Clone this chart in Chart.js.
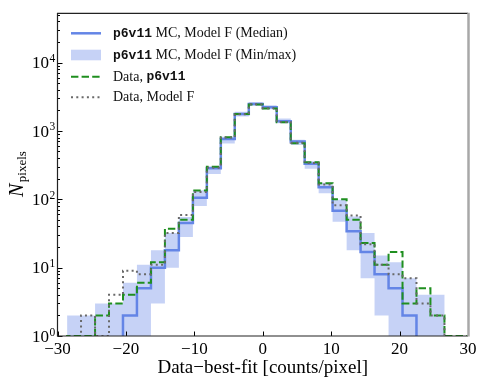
<!DOCTYPE html>
<html><head><meta charset="utf-8">
<script src="https://cdn.jsdelivr.net/npm/chart.js@4"></script>
<style>html,body{margin:0;padding:0;background:#fff;}canvas{display:block;}</style>
</head><body>
<canvas id="c" width="485" height="388"></canvas>
<script>
// Histogram bin edges (counts/pixel)
const binEdges = [-28.6,-26.56,-24.51,-22.47,-20.43,-18.39,-16.34,-14.3,-12.26,-10.21,-8.17,-6.13,-4.09,-2.04,0,
  2.04,4.09,6.13,8.17,10.21,12.26,14.3,16.34,18.39,20.43,22.47,24.51,26.56,28.6,30.64];
// p6v11 MC, Model F (median, min, max)
const medianMC = [0,0,0,0,2,5,10,18,45,105,285,760,1770,2480,2220,1380,700,330,150,68,34,17,8,5,2,0,0,0,0];
const minMC    = [0,0,0,0,0,0,3,10,28,80,235,655,1620,2330,2080,1290,620,280,122,47,18,7,2,0,0,0,0,0,0];
const maxMC    = [2,2,3,3,6,11,18,32,55,135,305,820,1900,2650,2380,1520,740,360,175,98,56,32,15,12,7,4,4,0,0];
// Data
const dataP6v11  = [1,1,2,3,4,6,12,37,50,134,300,808,1760,2430,2130,1340,660,348,172,100,50,23,11,17,3,5,2,1,1];
const dataModelF = [0,2,1,4,9,8,11,32,59,128,290,800,1750,2450,2150,1350,670,340,165,82,58,22,11,8,7,3,2,0,0];
// Axis ticks
const xTicks = [-30,-20,-10,0,10,20,30];
const yTickExponents = [0,1,2,3,4];
const legendLabels = [
  [['p6v11','mono'],[' MC, Model F (Median)','serif']],
  [['p6v11','mono'],[' MC, Model F (Min/max)','serif']],
  [['Data, ','serif'],['p6v11','mono']],
  [['Data, Model F','serif']]
];

const SERIF = '"Liberation Serif", "Times New Roman", serif';
const MONO = '"Liberation Mono", "DejaVu Sans Mono", monospace';
const BLUE = 'rgb(100,133,230)';
const BAND = 'rgba(65,105,225,0.3)';
const GREEN = '#1f8f1f';
const GREY = '#696969';
const FLOOR = 0.3; // empty bins fall below the log axis

function steps(vals){
  const f = v => v > 0 ? v : FLOOR;
  const pts = [{x:binEdges[0], y:FLOOR}];
  vals.forEach((v,i)=>pts.push({x:binEdges[i], y:f(v)}));
  pts.push({x:binEdges[vals.length], y:f(vals[vals.length-1])});
  return pts;
}

const frame = {
  id:'frame',
  afterDatasetsDraw(chart){
    const {ctx, chartArea:a, scales:{x,y}} = chart;
    ctx.save();
    // inward ticks
    ctx.strokeStyle='#000'; ctx.lineWidth=1;
    ctx.beginPath();
    xTicks.forEach(v=>{ const px=Math.round(x.getPixelForValue(v))+0.5; ctx.moveTo(px,a.bottom); ctx.lineTo(px,a.bottom-4.5); });
    yTickExponents.concat([5]).forEach(e=>{
      for(let m=1;m<=9;m++){ const v=m*Math.pow(10,e); if(v>y.max) break;
        const py=Math.round(y.getPixelForValue(v))+0.5; const len=m===1?5:2.5;
        ctx.moveTo(a.left,py); ctx.lineTo(a.left+len,py); }
    });
    ctx.stroke();
    // spines
    ctx.strokeStyle='#222'; ctx.lineWidth=1.2;
    ctx.beginPath(); ctx.moveTo(a.right,a.top); ctx.lineTo(a.left,a.top); ctx.lineTo(a.left,a.bottom); ctx.lineTo(a.right,a.bottom); ctx.stroke();
    ctx.strokeStyle='#a8a8a8'; ctx.lineWidth=2.5;
    ctx.beginPath(); ctx.moveTo(a.right+0.5,a.top-0.6); ctx.lineTo(a.right+0.5,a.bottom+0.6); ctx.stroke();
    // y tick labels 10^n
    ctx.fillStyle='#000'; ctx.textBaseline='alphabetic';
    yTickExponents.forEach(e=>{
      const py=y.getPixelForValue(Math.pow(10,e));
      ctx.font='17px '+SERIF; ctx.textAlign='right'; ctx.fillText('10', a.left-8.5, py+5.8);
      ctx.font='11.5px '+SERIF; ctx.textAlign='left'; ctx.fillText(String(e), a.left-8, py-0.5);
    });
    // y title N_pixels
    ctx.save(); ctx.translate(23,197); ctx.rotate(-Math.PI/2);
    ctx.textAlign='left'; ctx.font='italic 20px '+SERIF; ctx.fillText('N',0,0);
    const wN=ctx.measureText('N').width;
    ctx.font='13px '+SERIF; ctx.fillText('pixels', wN+1.5, 3);
    ctx.restore();
    // legend
    const rowsY=[33.3,55,76.7,97.3]; const x0=71, x1=101, tx=113;
    ctx.lineCap='butt';
    ctx.strokeStyle=BLUE; ctx.lineWidth=2.5; ctx.setLineDash([]);
    ctx.beginPath(); ctx.moveTo(x0,rowsY[0]); ctx.lineTo(x1,rowsY[0]); ctx.stroke();
    ctx.fillStyle=BAND; ctx.fillRect(x0,rowsY[1]-5.3,x1-x0,10.6);
    ctx.strokeStyle=GREEN; ctx.lineWidth=2; ctx.setLineDash([7.4,3.2]);
    ctx.beginPath(); ctx.moveTo(x0,rowsY[2]); ctx.lineTo(x1,rowsY[2]); ctx.stroke();
    ctx.strokeStyle=GREY; ctx.lineWidth=2; ctx.setLineDash([2,3.3]);
    ctx.beginPath(); ctx.moveTo(x0,rowsY[3]); ctx.lineTo(x1,rowsY[3]); ctx.stroke();
    ctx.setLineDash([]);
    ctx.fillStyle='#111'; ctx.textAlign='left'; ctx.textBaseline='middle';
    legendLabels.forEach((parts,i)=>{
      let cx=tx;
      parts.forEach(([t,kind])=>{
        ctx.font = kind==='mono' ? 'bold 13px '+MONO : '14px '+SERIF;
        ctx.fillText(t,cx,rowsY[i]+0.5); cx+=ctx.measureText(t).width;
      });
    });
    ctx.restore();
  }
};

new Chart(document.getElementById('c'), {
  type:'line',
  data:{ datasets:[
    {data:steps(dataModelF), stepped:'before', borderColor:GREY, borderWidth:2, borderDash:[2,3.3], pointRadius:0, fill:false},
    {data:steps(dataP6v11), stepped:'before', borderColor:GREEN, borderWidth:2, borderDash:[7.4,3.2], pointRadius:0, fill:false},
    {data:steps(medianMC), stepped:'before', borderColor:BLUE, borderWidth:2.5, pointRadius:0, fill:false},
    {data:steps(maxMC), stepped:'before', borderWidth:0, borderColor:'rgba(0,0,0,0)', backgroundColor:BAND, pointRadius:0, fill:'+1'},
    {data:steps(minMC), stepped:'before', borderWidth:0, borderColor:'rgba(0,0,0,0)', pointRadius:0, fill:false}
  ]},
  options:{
    responsive:false, animation:false, devicePixelRatio:1, events:[],
    layout:{padding:{left:0,right:17,top:13.3,bottom:0}},
    plugins:{legend:{display:false}, tooltip:{enabled:false}},
    scales:{
      x:{type:'linear', min:-30, max:30, position:'bottom',
        grid:{display:false, drawTicks:false}, border:{display:false},
        ticks:{stepSize:10, padding:3, color:'#000', font:{family:SERIF, size:17}, maxRotation:0,
          callback:v=>String(v).replace('-','\u2212')},
        title:{display:true, text:'Data\u2212best-fit [counts/pixel]', color:'#000', font:{family:SERIF, size:19}, padding:{top:0,bottom:8.6}},
        afterFit(s){ s.height=52; }
      },
      y:{type:'logarithmic', min:1, max:52500, position:'left',
        grid:{display:false, drawTicks:false}, border:{display:false},
        ticks:{display:false},
        afterFit(s){ s.width=57.5; }
      }
    }
  },
  plugins:[frame]
});
</script>
</body></html>
